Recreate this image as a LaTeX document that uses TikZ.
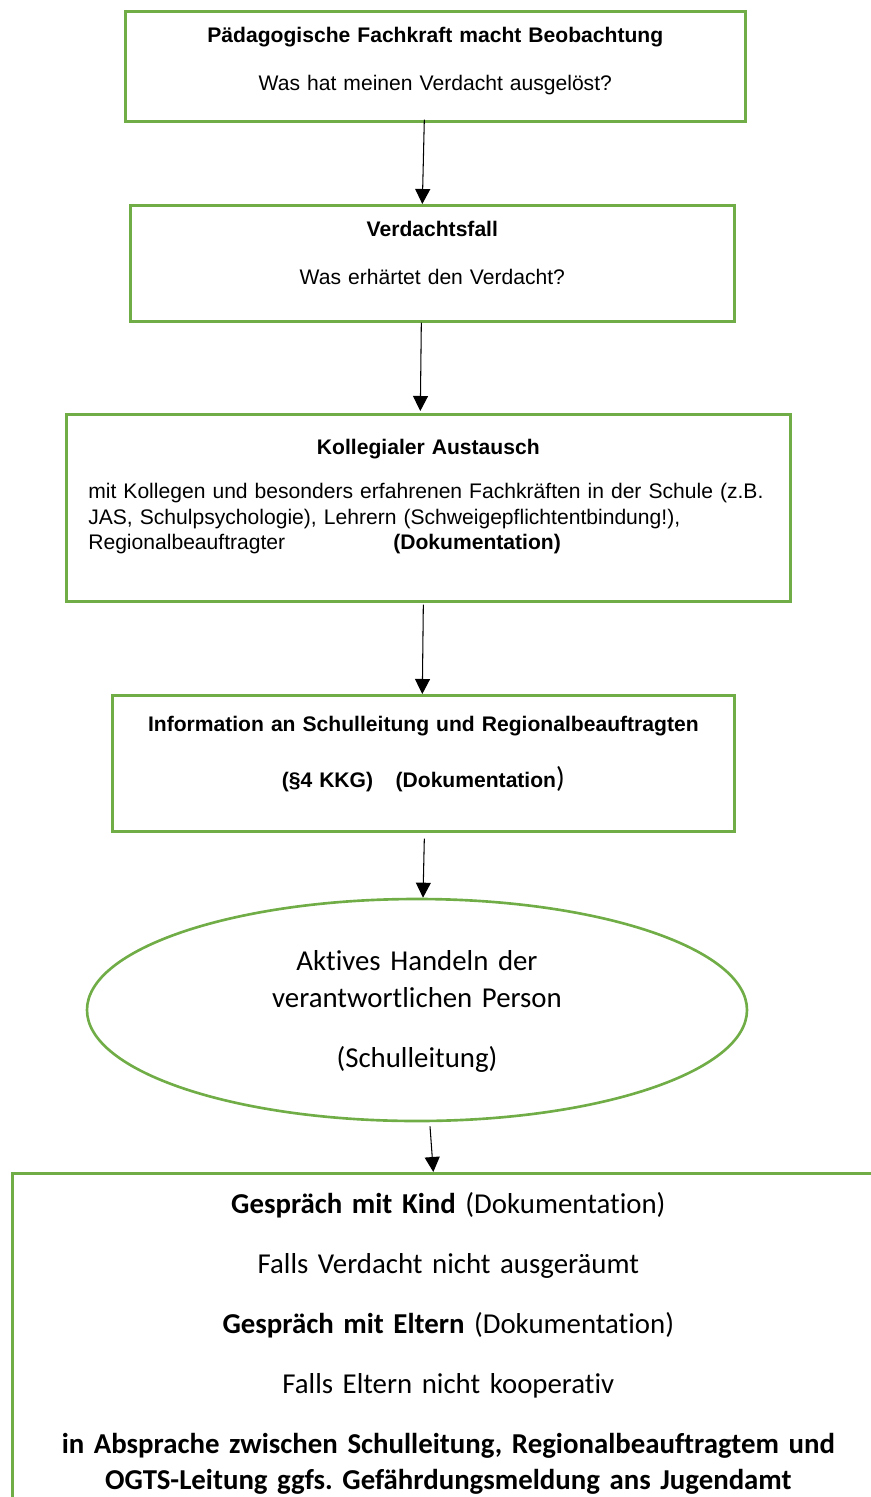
\documentclass[tikz,border=0pt]{standalone}
\usepackage{fontspec}
\setmainfont{Liberation Sans}
\newfontfamily\calibri{Carlito}[Ligatures=NoCommon]
\usepackage{xcolor}
\usetikzlibrary{shapes,arrows,positioning,calc,arrows.meta}
\definecolor{boxgreen}{HTML}{70AD47}
\frenchspacing

\begin{document}
\begin{tikzpicture}[
    stepbox/.style={draw=boxgreen, line width=1.5pt, rectangle, inner sep=0pt, anchor=north west, align=center, font=\fontsize{12}{13.9}\selectfont},
    flow/.style={-{Triangle[width=0.3cm,length=0.3cm]}, line width=0.6pt}
]
    \useasboundingbox (0,0) rectangle (17.42,-29.94);

    % Observation and suspicion
    \node[stepbox, text width=12.4cm, text height=0.62cm, text depth=1.58cm] (obs) at (2.48,-0.2)
        {\textbf{Pädagogische Fachkraft macht Beobachtung}\\[0.47cm] Was hat meinen Verdacht ausgelöst?};
    \node[stepbox, text width=12.08cm, text height=0.62cm, text depth=1.70cm] (susp) at (2.58,-4.08)
        {\textbf{Verdachtsfall}\\[0.47cm] Was erhärtet den Verdacht?};

    % Exchange with colleagues
    \node[stepbox, align=left, inner xsep=0.44cm, text width=13.6cm, text height=0.80cm, text depth=2.94cm] (peer) at (1.30,-8.26)
        {\makebox[\linewidth]{\textbf{Kollegialer Austausch}}\\[0.4cm]
         mit Kollegen und besonders erfahrenen Fachkräften in der Schule (z.B.\\[0.02cm]
         JAS, Schulpsychologie), Lehrern (Schweigepflichtentbindung!),\\[0.02cm]
         \makebox[6.1cm][l]{Regionalbeauftragter}\textbf{(Dokumentation)}};

    % Information of the head
    \node[stepbox, text width=12.44cm, text height=0.72cm, text depth=2.0cm] (info) at (2.22,-13.88)
        {\textbf{Information an Schulleitung und Regionalbeauftragten}\\[0.63cm]
         \textbf{(§4 KKG)\hspace{0.45cm}(Dokumentation}\smash{\calibri\fontsize{16.4}{16}\selectfont)}};

    % Acting person
    \node[ellipse, draw=boxgreen, line width=1.5pt, minimum width=13.2cm, minimum height=4.44cm, inner sep=0pt,
          text width=8cm, align=center, text height=0.5cm, text depth=2.1cm,
          font=\calibri\fontsize{16.4}{21.6}\selectfont] (act) at (8.34,-20.2)
        {Aktives Handeln der\\ verantwortlichen Person\\[0.44cm] (Schulleitung)};

    % Talks and report
    \node[stepbox, text width=17.44cm, text height=0.8cm, text depth=6.16cm,
          font=\calibri\fontsize{16.4}{20.5}\selectfont] (talk) at (0.22,-23.44)
        {\textbf{Gespräch mit Kind} (Dokumentation)\\[0.48cm]
         Falls Verdacht nicht ausgeräumt\\[0.48cm]
         \textbf{Gespräch mit Eltern} (Dokumentation)\\[0.48cm]
         Falls Eltern nicht kooperativ\\[0.48cm]
         {\bfseries in Absprache zwischen Schulleitung, Regionalbeauftragtem und}\\
         {\bfseries OGTS-Leitung ggfs. Gefährdungsmeldung ans Jugendamt}};

    % Arrows
    \draw[flow] ([xshift=-0.22cm,yshift=0.06cm]obs.south) -- ([xshift=-0.2cm]susp.north);
    \draw[flow] ([xshift=-0.22cm]susp.south) -- ([xshift=-0.16cm,yshift=0.04cm]peer.north);
    \draw[flow] ([xshift=-0.1cm,yshift=-0.04cm]peer.south) -- ([xshift=-0.02cm]info.north);
    \draw[flow] ([xshift=0.02cm,yshift=-0.12cm]info.south) -- ([xshift=0.12cm]act.north);
    \draw[flow] ([xshift=0.26cm,yshift=-0.08cm]act.south) -- ([xshift=-0.3cm]talk.north);

\end{tikzpicture}
\end{document}
